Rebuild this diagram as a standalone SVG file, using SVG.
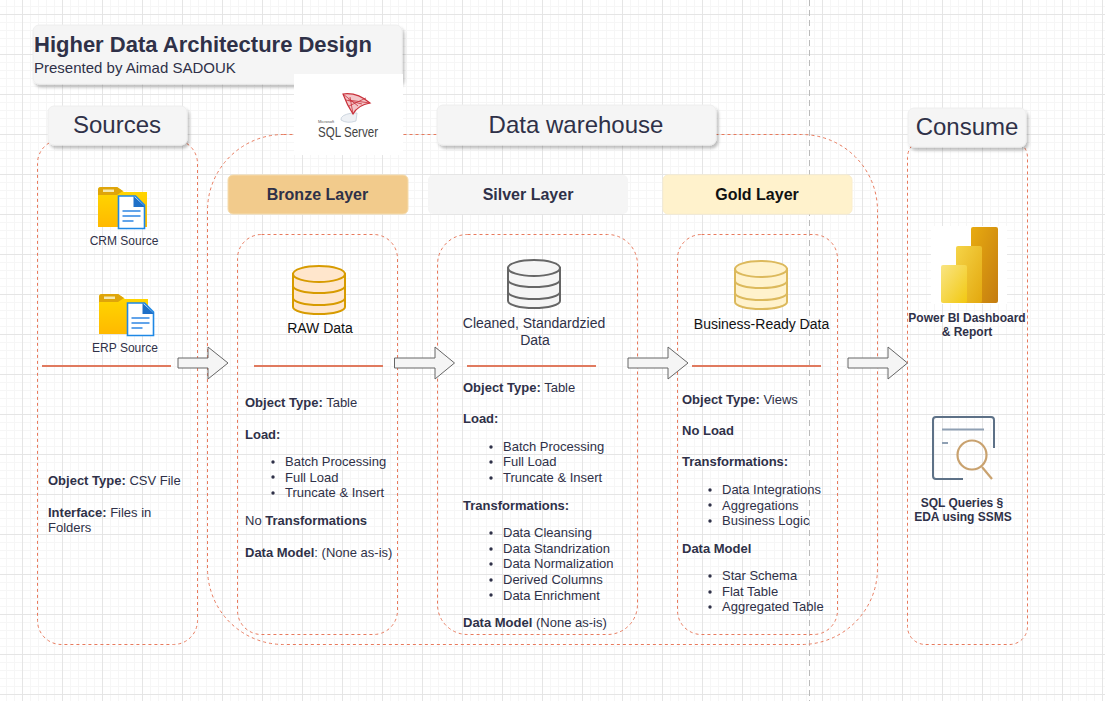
<svg xmlns="http://www.w3.org/2000/svg" width="1105" height="701" viewBox="0 0 1105 701">
<style>
text{font-family:"Liberation Sans",Arial,sans-serif;fill:#2f3148}
.b{font-weight:700}
.c{text-anchor:middle}
.dash{fill:none;stroke:#e87a5d;stroke-width:1;stroke-dasharray:3 3}
.rule{stroke:#e07a5f;stroke-width:2;fill:none}
.arrow{fill:#f5f5f5;stroke:#666;stroke-width:1}
.hdr{fill:#f5f5f5;stroke:#eeeeee;stroke-width:1;filter:url(#sh)}
.dot{fill:#2f3148}
.body{font-size:13px}
</style>
<defs>
<pattern id="g" width="40" height="40" patternUnits="userSpaceOnUse" x="22" y="14">
<path d="M8.500 0V40M16.500 0V40M24.500 0V40M32.500 0V40M0 8.500H40M0 16.500H40M0 24.500H40M0 32.500H40" stroke="#f6f6f6" stroke-width="1" fill="none"/>
<path d="M.5 0V40M0 .5H40" stroke="#e5e5e5" stroke-width="1" fill="none"/>
</pattern>
<filter id="sh" x="-10%" y="-20%" width="120%" height="150%"><feDropShadow dx="2" dy="3" stdDeviation="1.500" flood-color="#000" flood-opacity=".25"/></filter>
<linearGradient id="fold" x1="0" y1="0" x2="0" y2="1"><stop offset="0" stop-color="#ffd900"/><stop offset="1" stop-color="#ffb900"/></linearGradient>
<linearGradient id="p1" x1="0" y1="0" x2="1" y2="1"><stop offset="0" stop-color="#f9e583"/><stop offset="1" stop-color="#f2c811"/></linearGradient>
<linearGradient id="p2" x1="0" y1="0" x2="1" y2="1"><stop offset="0" stop-color="#f5d448"/><stop offset="1" stop-color="#e3a80e"/></linearGradient>
<linearGradient id="p3" x1="0" y1="0" x2="1" y2="1"><stop offset="0" stop-color="#e8ab10"/><stop offset="1" stop-color="#c47c10"/></linearGradient>
<g id="file">
<path d="M1 1H18L27 10V33.500H1Z" fill="#fff" stroke="#1e88e5" stroke-width="1.600"/>
<path d="M16 1L27 11V12H16Z" fill="#1e70c8"/>
<path d="M5 16H23M5 21H23M5 26H16" stroke="#62a4ea" stroke-width="2" fill="none"/>
</g>
<g id="folder">
<path d="M0 3Q0 0 3 0H19L26 5H49V40H0Z" fill="url(#fold)"/>
<path d="M0 3Q0 0 3 0H19L25 4L19 8H0Z" fill="#dfa50a"/>
<rect x="5" y="2.500" width="11" height="2.500" fill="#f5e9b0"/>
</g>
<g id="db">
<path d="M0 11V44A26 7 0 0 0 52 44V11Z" stroke-width="2"/>
<ellipse cx="26" cy="11" rx="26" ry="8" stroke-width="2"/>
<path d="M0 23A26 7 0 0 0 52 23M0 35A26 7 0 0 0 52 35" fill="none" stroke-width="2"/>
</g>
</defs>
<rect width="1105" height="701" fill="#fff"/>
<rect width="1105" height="701" fill="url(#g)"/>
<path d="M809.500 0V701" stroke="#bbb" stroke-width="1" stroke-dasharray="6 4" fill="none"/>

<g id="connectors">
<rect class="dash" x="37.500" y="139.500" width="160" height="505" rx="24"/>
<rect class="dash" x="207.500" y="134.500" width="670" height="510" rx="76"/>
<rect class="dash" x="237.500" y="234.500" width="160" height="400" rx="24"/>
<rect class="dash" x="437.500" y="234.500" width="200" height="400" rx="30"/>
<rect class="dash" x="677.500" y="234.500" width="160" height="400" rx="24"/>
<rect class="dash" x="907.500" y="139.500" width="120" height="505" rx="18"/>
<path class="rule" d="M42 366H171M254 366H383M467 366H596M692 366H821"/>
<path class="arrow" d="M178 358H208V347L228 363L208 379V368H178Z"/>
<path class="arrow" d="M394.500 358H435V347L454.500 363L435 379V368H394.500Z"/>
<path class="arrow" d="M628 358H668V347L688 363L668 379V368H628Z"/>
<path class="arrow" d="M848 358H888V347L907.500 363L888 379V368H848Z"/>
</g>

<g id="title">
<rect class="hdr" x="33" y="25" width="369" height="59" rx="6"/>
<text class="b" x="34" y="52" font-size="22">Higher Data Architecture Design</text>
<text x="34" y="73" font-size="15">Presented by Aimad SADOUK</text>
</g>
<g id="sources-header"><rect class="hdr" x="48" y="106" width="139" height="39" rx="6"/><text class="c" x="117" y="133" font-size="24">Sources</text></g>
<g id="warehouse-header"><rect class="hdr" x="437" y="105" width="279" height="40" rx="6"/><text class="c" x="576" y="133" font-size="24">Data warehouse</text></g>
<g id="consume-header"><rect class="hdr" x="908" y="108" width="118" height="39" rx="6"/><text class="c" x="967" y="135" font-size="24">Consume</text></g>

<g id="sqlserver">
<rect x="294" y="74" width="109" height="81" fill="#fff"/>
<path d="M352 113Q340 115 341 120Q347 124 356 121L357 113Z" fill="#eef1f5" stroke="#c4ced9" stroke-width=".8"/>
<path d="M343 94Q357 92 370 103Q358 105 353 114Q347 105 343 94Z" fill="#f3c5c8" stroke="#c8303a" stroke-width="1.200"/>
<path d="M343 94L358 106M370 103L348 100M346 100L362 104M353 114L350 97M349 106L366 98" stroke="#c8303a" stroke-width=".8" fill="none"/>
<text x="318" y="123" font-size="4" style="fill:#555">Microsoft</text>
<text x="318" y="137" font-size="14.500" style="fill:#444" textLength="60" lengthAdjust="spacingAndGlyphs">SQL Server</text>
</g>

<g id="bronze-header"><rect x="228" y="175" width="180" height="39" rx="5" fill="#f2cb8c" stroke="#f5dcae"/><text class="b c" x="317.500" y="200" font-size="16">Bronze Layer</text></g>
<g id="silver-header"><rect x="428" y="175" width="200" height="39" rx="5" fill="#f5f5f5"/><text class="b c" x="528" y="200" font-size="16">Silver Layer</text></g>
<g id="gold-header"><rect x="663" y="175" width="189" height="39" rx="5" fill="#fff2cc" stroke="#fbeecb"/><text class="b c" x="757" y="200" font-size="16" style="fill:#111">Gold Layer</text></g>

<g id="crm">
<use href="#folder" x="98" y="187"/>
<use href="#file" x="117.500" y="195"/>
<text class="c" x="124" y="245" font-size="12">CRM Source</text>
</g>
<g id="erp">
<use href="#folder" x="99" y="294"/>
<use href="#file" x="126.500" y="302"/>
<text class="c" x="125" y="352" font-size="12">ERP Source</text>
</g>
<g id="sources-info" class="body">
<text x="48" y="485"><tspan class="b">Object Type:</tspan> CSV File</text>
<text x="48" y="517"><tspan class="b">Interface:</tspan> Files in</text>
<text x="48" y="532">Folders</text>
</g>

<g id="bronze" class="body">
<use href="#db" x="293" y="263" fill="#ffe6cc" stroke="#d79b00"/>
<text class="c" x="320" y="333" font-size="14" style="fill:#111">RAW Data</text>
<text x="245" y="407"><tspan class="b">Object Type:</tspan> Table</text>
<text class="b" x="245" y="439">Load:</text>
<circle class="dot" cx="273" cy="462" r="1.700"/><text x="285" y="466">Batch Processing</text>
<circle class="dot" cx="273" cy="477" r="1.700"/><text x="285" y="482">Full Load</text>
<circle class="dot" cx="273" cy="493" r="1.700"/><text x="285" y="497">Truncate &amp; Insert</text>
<text x="245" y="525">No <tspan class="b">Transformations</tspan></text>
<text x="245" y="557"><tspan class="b">Data Model</tspan>: (None as-is)</text>
</g>

<g id="silver" class="body">
<use href="#db" x="508" y="257" fill="#f5f5f5" stroke="#666"/>
<text class="c" x="534" y="328" font-size="14">Cleaned, Standardzied</text>
<text class="c" x="535" y="345" font-size="14">Data</text>
<text x="463" y="392"><tspan class="b">Object Type:</tspan> Table</text>
<text class="b" x="463" y="423">Load:</text>
<circle class="dot" cx="491" cy="447" r="1.700"/><text x="503" y="451">Batch Processing</text>
<circle class="dot" cx="491" cy="462" r="1.700"/><text x="503" y="466">Full Load</text>
<circle class="dot" cx="491" cy="478" r="1.700"/><text x="503" y="482">Truncate &amp; Insert</text>
<text class="b" x="463" y="510">Transformations:</text>
<circle class="dot" cx="491" cy="533" r="1.700"/><text x="503" y="537">Data Cleansing</text>
<circle class="dot" cx="491" cy="549" r="1.700"/><text x="503" y="553">Data Standrization</text>
<circle class="dot" cx="491" cy="564" r="1.700"/><text x="503" y="568">Data Normalization</text>
<circle class="dot" cx="491" cy="580" r="1.700"/><text x="503" y="584">Derived Columns</text>
<circle class="dot" cx="491" cy="595" r="1.700"/><text x="503" y="600">Data Enrichment</text>
<text x="463" y="627"><tspan class="b">Data Model</tspan> (None as-is)</text>
</g>

<g id="gold" class="body">
<use href="#db" x="735" y="258" fill="#fff2cc" stroke="#dcb95c"/>
<text class="c" x="761.500" y="329" font-size="14" style="fill:#111">Business-Ready Data</text>
<text x="682" y="404"><tspan class="b">Object Type:</tspan> Views</text>
<text class="b" x="682" y="435">No Load</text>
<text class="b" x="682" y="466">Transformations:</text>
<circle class="dot" cx="710" cy="490" r="1.700"/><text x="722" y="494">Data Integrations</text>
<circle class="dot" cx="710" cy="505" r="1.700"/><text x="722" y="510">Aggregations</text>
<circle class="dot" cx="710" cy="521" r="1.700"/><text x="722" y="525">Business Logic</text>
<text class="b" x="682" y="553">Data Model</text>
<circle class="dot" cx="710" cy="576" r="1.700"/><text x="722" y="580">Star Schema</text>
<circle class="dot" cx="710" cy="592" r="1.700"/><text x="722" y="596">Flat Table</text>
<circle class="dot" cx="710" cy="607" r="1.700"/><text x="722" y="611">Aggregated Table</text>
</g>

<g id="powerbi">
<rect x="931" y="226" width="76" height="78" fill="#fff"/>
<rect x="971" y="227" width="27" height="76" rx="2" fill="url(#p3)"/>
<rect x="956" y="246" width="26" height="57" rx="2" fill="url(#p2)"/>
<rect x="941" y="265" width="26" height="38" rx="2" fill="url(#p1)"/>
<text class="b c" x="967" y="322" font-size="12">Power BI Dashboard</text>
<text class="b c" x="967" y="336" font-size="12">&amp; Report</text>
</g>
<g id="sql-queries">
<path d="M994 448V420Q994 417 991 417H936Q933 417 933 420V476Q933 479 936 479H963" fill="none" stroke="#5d7187" stroke-width="2"/>
<path d="M942 429.500H984M942 443H948" fill="none" stroke="#8fa0b3" stroke-width="2"/>
<circle cx="972" cy="455" r="14.500" fill="none" stroke="#c9a26f" stroke-width="2.200"/>
<path d="M982 467L992 479" fill="none" stroke="#c9a26f" stroke-width="2.200"/>
<text class="b c" x="962" y="507" font-size="12">SQL Queries §</text>
<text class="b c" x="963" y="521" font-size="12">EDA using SSMS</text>
</g>
</svg>
